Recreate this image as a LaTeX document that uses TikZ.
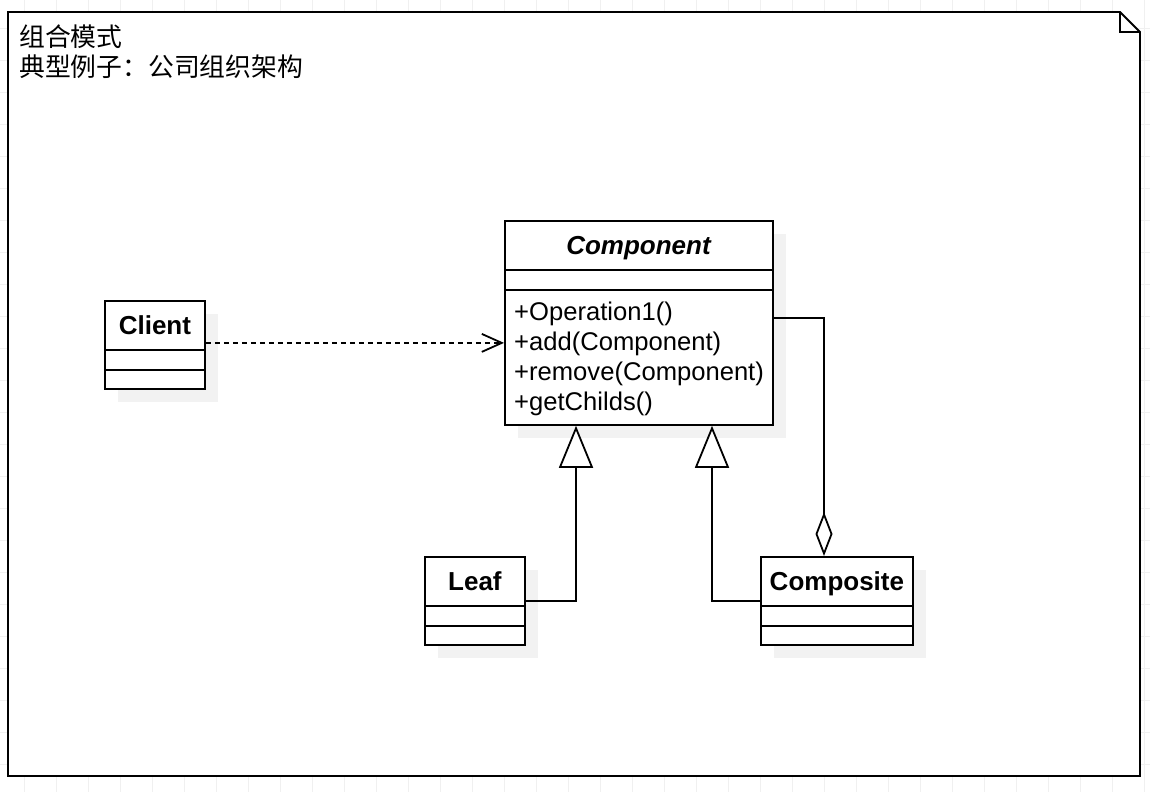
\documentclass[tikz,border=0pt]{standalone}
\usepackage{fontspec}
\setmainfont{Liberation Sans}
\newfontfamily\cjk{Noto Sans CJK SC}
\usetikzlibrary{arrows.meta,calc}
\definecolor{umlshadow}{rgb}{0.95,0.95,0.95}
\definecolor{umlgrid}{rgb}{0.94,0.94,0.94}
\tikzstyle{umlclass}=[rectangle, draw, fill=white, line width=1.8pt, inner sep=0pt]
\tikzstyle{umltitle}=[anchor=base, inner sep=0pt, font=\fontsize{26}{30}\selectfont\bfseries]
\tikzstyle{umlop}=[anchor=base west, inner sep=0pt, font=\fontsize{25.6}{30}\selectfont]
\tikzstyle{umlline}=[draw, line width=1.8pt]
\tikzstyle{notetext}=[anchor=base west, inner sep=0pt, font=\cjk\fontsize{25.8}{30}\selectfont]
\newcommand{\umlclass}[5]{
	\fill[umlshadow] ($(#2)+(14,14)$) rectangle ++(#3,#4);
	\node[umlclass, minimum width=#3pt, minimum height=#4pt, anchor=north west] (#1) at (#2) {};
	\node[umltitle] (#1-title) at ($(#1.north)+(0,34)$) {#5};
	\draw[umlline] ($(#1.north west)+(0,50)$) -- ($(#1.north east)+(0,50)$);
	\draw[umlline] ($(#1.north west)+(0,70)$) -- ($(#1.north east)+(0,70)$);}

\begin{document}
\begin{tikzpicture}[x=1pt, y=-1pt]
	\useasboundingbox (0,0) rectangle (1150,792);
	% background grid
	\foreach \x in {24,56,...,1144} \draw[umlgrid] (\x,0) -- (\x,792);
	\foreach \y in {28,60,...,788} \draw[umlgrid] (0,\y) -- (1150,\y);
	
	% note frame
	\draw[umlline, fill=white] (8,12) -- (1120,12) -- (1140,32) -- (1140,776) -- (8,776) -- cycle;
	\draw[umlline] (1120,12) -- (1120,32) -- (1140,32);
	\node[notetext] (notetitle) at (19,46) {组合模式};
	\node[notetext] (noteexample) at (19,76) {典型例子：公司组织架构};
	
	\umlclass{component}{504,220}{268}{204}{\textit{Component}}
	\node[umlop] (op1) at (514,320) {+Operation1()};
	\node[umlop] (op2) at (514,350) {+add(Component)};
	\node[umlop] (op3) at (514,380) {+remove(Component)};
	\node[umlop] (op4) at (514,410) {+getChilds()};
	
	\umlclass{client}{104,300}{100}{88}{Client}
	\umlclass{leaf}{424,556}{100}{88}{Leaf}
	\umlclass{composite}{760,556}{152}{88}{Composite}
	
	\path[umlline, dash pattern=on 5pt off 4pt, -{Straight Barb[length=20pt, width=18pt]}] ($(client.east)+(0,-2)$) -- ($(client.east -| component.west)+(0,-2)$);
	\path[umlline, -{Triangle[open, fill=white, length=42pt, width=34pt]}] (leaf.east) -| ($(component.south west)+(72,0)$);
	\path[umlline, -{Triangle[open, fill=white, length=42pt, width=34pt]}] (composite.west) -| ($(component.south west)+(208,0)$);
	\path[umlline, {Diamond[open, fill=white, length=44pt, width=17pt]}-] ($(composite.north west)+(64,0)$) |- ($(component.north east)+(0,98)$);
\end{tikzpicture}
\end{document}
